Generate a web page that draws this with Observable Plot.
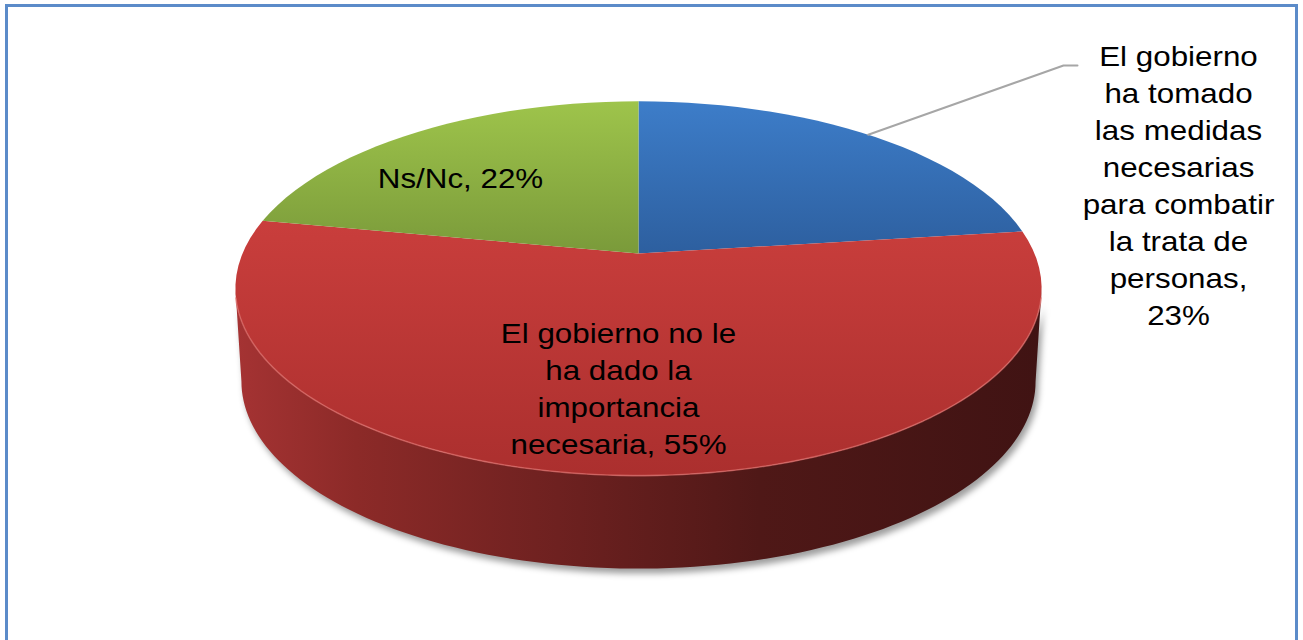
<!DOCTYPE html>
<html>
<head>
<meta charset="utf-8">
<script src="https://cdn.jsdelivr.net/npm/d3@7"></script>
<script src="https://cdn.jsdelivr.net/npm/@observablehq/plot@0.6"></script>
<style>
  html, body { margin: 0; padding: 0; background: #fff; }
  #frame { position: relative; width: 1303px; height: 640px; overflow: hidden; }
  #border { position: absolute; left: 5px; top: 4px; width: 1293px; height: 700px;
            border: 3px solid #5b8bc9; box-sizing: border-box; pointer-events: none; }
</style>
</head>
<body>
<div id="frame"><div id="chart"></div><div id="border"></div></div>
<script>
// ---------- data ----------
const categories = [
  "El gobierno ha tomado las medidas necesarias para combatir la trata de personas",
  "El gobierno no le ha dado la importancia necesaria",
  "Ns/Nc"
];
const values = [23, 55, 22];
const labelTexts = [
  "El gobierno\nha tomado\nlas medidas\nnecesarias\npara combatir\nla trata de\npersonas,\n23%",
  "El gobierno no le\nha dado la\nimportancia\nnecesaria, 55%",
  "Ns/Nc, 22%"
];

// ---------- styles / layout ----------
const topGradients = [
  ["#3d7dc9", "#2d5f9f"],
  ["#c93e3c", "#ab2f2e"],
  ["#9ec44b", "#7a9a3a"]
];
const sideStops = [[0, "#a53333"], [0.15, "#8c2a28"], [0.4, "#6e2120"], [0.65, "#4f1817"], [1, "#401313"]];
const W = 1303, H = 640;
const CX = 638, CY = 253, S = 396;      // apex of the pie in pixels, scale
const PERSP = 0.187, TILT = 0.456;      // perspective & tilt of the top face
const DEPTH = 93 / S, SHRINK = 0.985;   // thickness of the pie
const labelPx = [[1178, 183], [618, 386], [460, 176]];
const leaderElbowPx = [[1063, 65], [1077, 65]];
const FONT = "'Liberation Sans', Arial, Helvetica, sans-serif";
const TEXT_STRETCH = 1.12;

// ---------- geometry ----------
const toModel = ([px, py]) => ({x: (px - CX) / S, y: (py - CY) / S});
function project(r, t) {
  const d = 1 + PERSP * r * Math.cos(t);
  return {x: r * Math.sin(t) / d, y: -TILT * r * Math.cos(t) / d};
}
const bottom = (p) => ({x: p.x * SHRINK, y: p.y + DEPTH});
function arcPoints(a0, a1, n = 120) {
  const pts = [];
  const steps = Math.max(2, Math.ceil(n * (a1 - a0) / (2 * Math.PI)) + 1);
  for (let i = 0; i <= steps; i++) pts.push(project(1, a0 + (a1 - a0) * i / steps));
  return pts;
}

const arcs = d3.pie().sort(null).value(d => d).startAngle(0).endAngle(2 * Math.PI)(values);
const tR = Math.acos(-PERSP), tL = 2 * Math.PI - tR;   // silhouette angles

const topPolys = arcs.map((a, i) => ({
  i, pts: [project(0, 0), ...arcPoints(a.startAngle, a.endAngle), project(0, 0)]
}));
const sidePolys = arcs.map((a, i) => {
  const a0 = Math.max(a.startAngle, tR), a1 = Math.min(a.endAngle, tL);
  if (a1 <= a0) return null;
  const topArc = arcPoints(a0, a1, 240);
  return {i, pts: [...topArc, ...topArc.slice().reverse().map(bottom)]};
}).filter(Boolean);
const frontArc = arcPoints(tR, tL, 240);
const silhouette = [...frontArc, ...frontArc.slice().reverse().map(bottom)];
const shadowPts = silhouette.map(p => ({x: p.x + 3 / S, y: p.y + 5 / S}));

const labels = labelTexts.map((t, i) => ({text: t, ...toModel(labelPx[i])}));
const blueMid = (arcs[0].startAngle + arcs[0].endAngle) / 2;
const leader = [project(1, blueMid), ...leaderElbowPx.map(toModel)];

// ---------- plot ----------
const marks = [
  Plot.line(shadowPts, {x: "x", y: "y", fill: "#000", fillOpacity: 0.38, stroke: "none"}),
  ...sidePolys.map(s => Plot.line(s.pts, {x: "x", y: "y", fill: `url(#side${s.i})`, stroke: "none"})),
  ...topPolys.map(s => Plot.line(s.pts, {x: "x", y: "y", fill: `url(#top${s.i})`, stroke: "none"})),
  Plot.line(arcPoints(tR + 0.05, tL - 0.05, 240), {x: "x", y: "y", stroke: "#da6a66", strokeWidth: 1.6, strokeOpacity: 0.7}),
  Plot.line(leader, {x: "x", y: "y", stroke: "#a6a6a6", strokeWidth: 2}),
  Plot.text(labels, {x: "x", y: "y", text: "text", fontSize: 28, lineHeight: 1.32,
    fontFamily: FONT, fill: "#000", textAnchor: "middle"})
];

const svg = Plot.plot({
  width: W, height: H,
  margin: 0,
  x: {domain: [-1, 1], range: [CX - S, CX + S], axis: null},
  y: {domain: [-1, 1], range: [CY - S, CY + S], axis: null},
  style: {background: "transparent", overflow: "visible", fontFamily: FONT},
  marks
});

// gradients and blur filter
const root = d3.select(svg);
const defs = root.insert("defs", ":first-child");
topGradients.forEach(([c0, c1], i) => {
  const g = defs.append("linearGradient").attr("id", `top${i}`)
    .attr("x1", 0).attr("y1", 0).attr("x2", 0).attr("y2", 1);
  g.append("stop").attr("offset", 0).attr("stop-color", c0);
  g.append("stop").attr("offset", 1).attr("stop-color", c1);
});
arcs.forEach((a, i) => {
  const g = defs.append("linearGradient").attr("id", `side${i}`)
    .attr("x1", 0).attr("y1", 0).attr("x2", 1).attr("y2", 0);
  sideStops.forEach(([o, c]) => g.append("stop").attr("offset", o).attr("stop-color", c));
});
defs.append("filter").attr("id", "blur").attr("x", "-10%").attr("y", "-10%")
  .attr("width", "120%").attr("height", "130%")
  .append("feGaussianBlur").attr("stdDeviation", 3);
// the first path drawn is the shadow
root.select("path").attr("filter", "url(#blur)");

// slightly wider lettering, as in the original picture
root.selectAll("text").each(function () {
  const tr = this.getAttribute("transform");
  if (tr && tr.includes("translate")) {
    this.setAttribute("transform", `${tr} scale(${TEXT_STRETCH},1)`);
  } else {
    const x = +(this.getAttribute("x") || 0), y = +(this.getAttribute("y") || 0);
    this.removeAttribute("x"); this.removeAttribute("y");
    this.setAttribute("transform", `translate(${x},${y}) scale(${TEXT_STRETCH},1)`);
  }
});

document.getElementById("chart").appendChild(svg);
</script>
</body>
</html>
